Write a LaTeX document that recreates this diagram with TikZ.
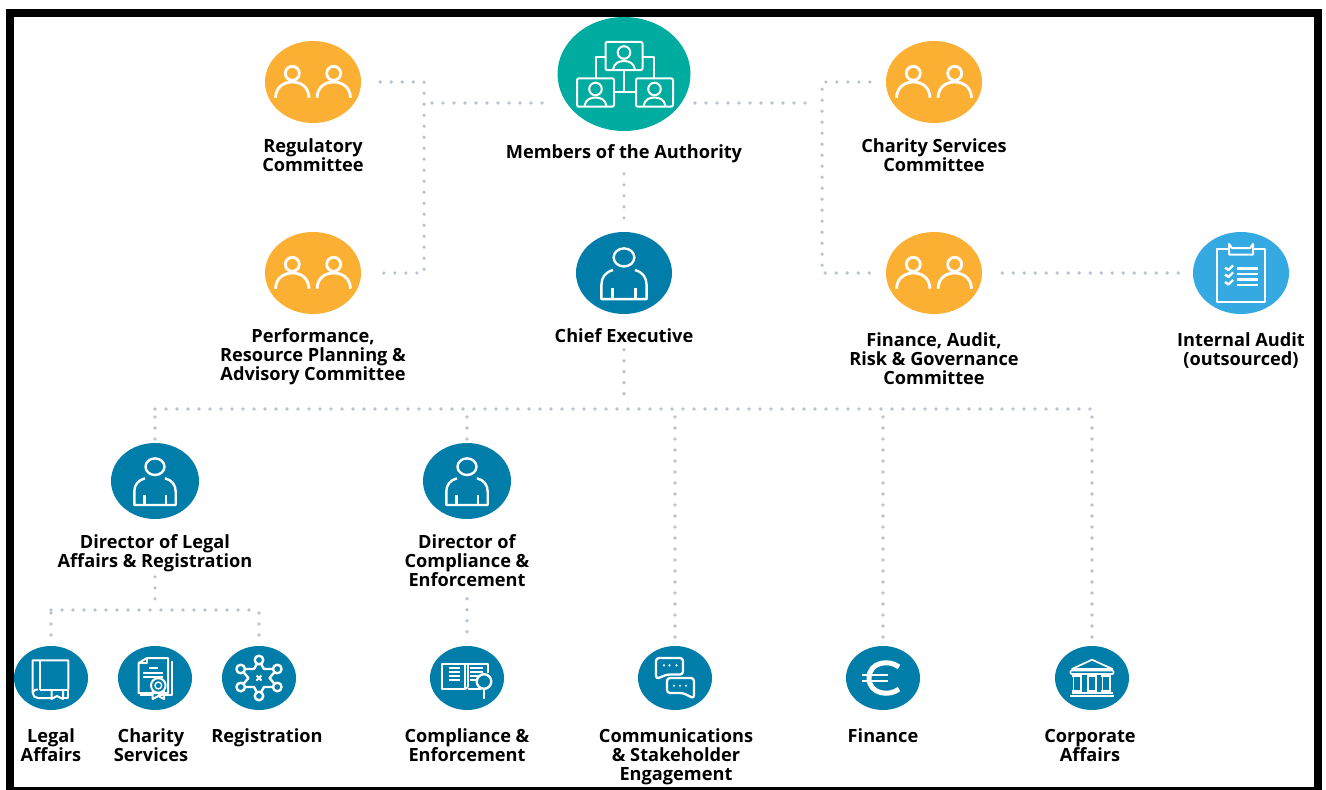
\documentclass[tikz,border=0pt]{standalone}
\usepackage{fontspec}
\setmainfont{Open Sans}
\usetikzlibrary{shapes.geometric,positioning}
\definecolor{tealc}{HTML}{00AB9F}
\definecolor{orangec}{HTML}{FBB034}
\definecolor{bluec}{HTML}{007DA8}
\definecolor{skyc}{HTML}{35A9E1}
\definecolor{dotc}{HTML}{B7C4CF}
\tikzset{
  disc/.style={ellipse,inner sep=0pt,draw=none},
  big disc/.style={disc,fill=orangec,minimum width=96pt,minimum height=82pt},
  chief disc/.style={big disc,fill=bluec},
  audit disc/.style={big disc,fill=skyc},
  dir disc/.style={disc,fill=bluec,minimum width=88pt,minimum height=76pt},
  unit disc/.style={disc,fill=bluec,minimum width=74pt,minimum height=64pt},
  lbl/.style={inner sep=0pt,align=center,font=\fontsize{18.2}{19}\selectfont\bfseries},
  dotline/.style={draw=dotc,line width=3.6pt,line cap=round,dash pattern=on 0pt off 11pt},
  ico/.style={draw=white,line width=2pt,line join=round,fill=none},
  pics/twopeople/.style={code={
    \foreach \s in {-1,1} {
      \draw[ico,line width=2.8pt] (\s*20.7,-8.7) circle (7);
      \draw[ico,line width=2.8pt] (\s*37.5,15.7) .. controls (\s*37,4) and (\s*28,0) .. (\s*20.7,0)
         .. controls (\s*13,0) and (\s*4.5,4) .. (\s*4,15.7);
    }
  }},
  pics/person/.style={code={
    \draw[ico,line width=2.4pt] (0,-14.3) ellipse (9.5 and 8.3);
    \draw[ico,line width=2.4pt] (-10,-2.7) .. controls (-17,-1) and (-20.7,4) .. (-20.7,10.7) -- (-20.7,24)
       -- (20.7,24) -- (20.7,10.7) .. controls (20.7,4) and (17,-1) .. (10,-2.7);
    \draw[ico,line width=2.4pt] (-10.7,14) -- (-10.7,24) (10.7,14) -- (10.7,24);
  }},
  pics/minipeep/.style={code={
    \draw[ico,rounded corners=2pt] (-18.5,-14.2) rectangle (18.5,14.2);
    \draw[ico] (0,-3.5) circle (6.3);
    \draw[ico] (-11,13.5) .. controls (-10,7) and (-5,5) .. (0,5) .. controls (5,5) and (10,7) .. (11,13.5);
  }},
  pics/board/.style={code={
    \pic at (0,-18) {minipeep};
    \pic at (-28.5,18.5) {minipeep};
    \pic at (30.5,18.5) {minipeep};
    \draw[ico] (-18.5,-17) -- (-28.3,-17) -- (-28.3,4.3);
    \draw[ico] (18.5,-17) -- (30,-17) -- (30,4.3);
    \draw[ico] (0,-4) -- (0,18) (-10,18) -- (12,18);
  }},
  pics/book/.style={code={
    \draw[ico] (17.3,11.5) -- (17.3,-17.7) -- (-18.3,-17.7) -- (-18.3,15)
       .. controls (-18.3,18) and (-15.5,20) .. (-13,20) -- (1,20);
    \draw[ico] (-11.5,-17.7) -- (-11.5,11.5);
    \draw[ico] (-11.5,11.5) -- (17.3,11.5);
    \draw[ico] (-13,11.5) .. controls (-16.5,11.5) and (-18.3,13) .. (-18.3,15);
    \draw[ico] (0.5,11.5) -- (0.5,21) -- (6,18) -- (12,21) -- (12,11.5);
    \draw[ico] (12,20) -- (17,20) -- (17,11.5);
  }},
  pics/certif/.style={code={
    \draw[ico] (-2,15) -- (-16.5,15) -- (-16.5,-15) -- (-8,-20) -- (13,-20) -- (13,15) -- (-2,15);
    \draw[ico] (-16.5,-15) -- (-8,-15) -- (-8,-20);
    \draw[ico] (16.5,-17) -- (16.5,17) -- (3,17) (-15,17) -- (-3,17);
    \draw[ico] (-6,-10) -- (3,-10) (-12,-5) -- (8,-5) (-12,-1.5) -- (8,-1.5);
    \draw[ico,fill=bluec] (3.3,7.5) circle (7.3);
    \draw[ico,line width=1.4pt] (3.3,7.5) circle (3.4);
    \draw[ico] (-2.3,13) -- (-2.3,21) -- (3.3,18) -- (9,21) -- (9,13);
  }},
  pics/hubstar/.style={code={
    \draw[ico,line width=2.4pt] (0,-17.7) -- (5,-9) -- (18.3,-9) -- (10.5,0) -- (18.3,9) -- (5,9) -- (0,18)
       -- (-5,9) -- (-18.3,9) -- (-10.5,0) -- (-18.3,-9) -- (-5,-9) -- cycle;
    \foreach \p in {(0,-18),(0,18),(-18.3,-9),(18.3,-9),(-18.3,9),(18.3,9)}
      \draw[ico,line width=2.4pt,fill=bluec] \p circle (4.3);
    \draw[ico,line width=1.8pt] (-2.5,-2.5) -- (2.5,2.5) (-2.5,2.5) -- (2.5,-2.5);
  }},
  pics/openbook/.style={code={
    \draw[ico] (-2,11) -- (-25,11) -- (-25,-14) -- (-2,-14) -- (-2,11);
    \draw[ico] (1,9) -- (1,-14) -- (21,-14) -- (21,-5);
    \draw[ico] (1,11) -- (14,11);
    \draw[ico] (-2,-14) -- (1,-14) (-2,11) -- (1,9);
    \foreach \yy in {-10,-6,-2.5,1.5} \draw[ico] (-18.5,\yy) -- (-7,\yy);
    \foreach \yy in {-10,-6} \draw[ico] (3,\yy) -- (16,\yy);
    \draw[ico] (3,-2.5) -- (11,-2.5) (3,1.5) -- (9,1.5);
    \draw[ico,line width=2.4pt,fill=bluec] (17,3.5) circle (7.3);
    \draw[ico,line width=2.8pt] (17,11) -- (17,20.5);
  }},
  pics/chats/.style={code={
    \draw[ico,line width=2.3pt,rounded corners=3pt] (-19,-20) -- (8,-20) -- (8,-3.5) -- (-8,-3.5) -- (-19,1) -- cycle;
    \draw[ico,line width=2.3pt,rounded corners=3pt] (-8,0) -- (19,0) -- (19,20.5) -- (8,15) -- (-8,15) -- cycle;
    \foreach \xx in {-11,-5.5,1.5} \fill[white] (\xx,-12.7) circle (1.2);
    \foreach \xx in {-1,5,11} \fill[white] (\xx,7.7) circle (1.2);
  }},
  pics/euro/.style={code={
    \draw[ico,line width=5pt,line cap=butt] (16,-11) .. controls (6,-19) and (-14,-16) .. (-14,0)
       .. controls (-14,16) and (6,19) .. (16,11);
    \draw[ico,line width=2pt] (-21,-2.7) -- (5,-2.7) (-21,3.3) -- (5,3.3);
  }},
  pics/bank/.style={code={
    \draw[ico,line width=1.7pt] (-20,-9) -- (0,-18.3) -- (20.5,-9) -- cycle;
    \draw[ico,line width=1.7pt,rounded corners=1pt] (-21.5,-7.5) rectangle (21.5,-4);
    \foreach \xx in {-14.7,0,14.3}
      \draw[ico,line width=1.7pt] (\xx-3.7,-4) -- (\xx-3.7,13.3) (\xx+3.7,-4) -- (\xx+3.7,13.3)
         (\xx-5,13.3) -- (\xx+5,13.3) (\xx-5,-2) -- (\xx+5,-2);
    \draw[ico,line width=1.7pt] (-22,18) -- (22,18) (-20.5,15) -- (20.5,15);
  }},
  pics/clipbrd/.style={code={
    \draw[ico] (-24,-24) -- (24,-24) -- (24,29) -- (-24,29) -- cycle;
    \draw[ico,fill=skyc] (-12,-29) -- (-12,-18.5) -- (12,-18.5) -- (12,-29) -- (9,-25) -- (-9,-25) -- cycle;
    \foreach \yy in {-4.5,2.5,10} 
      \draw[ico,line width=2.4pt] (-16,\yy-1) -- (-12.5,\yy+1.5) -- (-8,\yy-3);
    \foreach \yy in {-4.5,1,6.5,12}
      \draw[ico,line width=2.2pt] (-4.5,\yy) -- (16.5,\yy);
  }}
}
\begin{document}
\begin{tikzpicture}[x=1pt,y=-1pt]
  \useasboundingbox (0,0) rectangle (1326,790);
  \fill[white] (0,0) rectangle (1326,790);
  \draw[black,line width=8.4pt] (10,13) rectangle (1318,791);

  % committees and board
  \node[disc,fill=tealc,minimum width=133pt,minimum height=114pt] (members) at (624,74) {};
  \node[big disc] (regul) at (313,82) {};
  \node[big disc] (chsrv) at (934,82) {};
  \node[big disc] (perf) at (313,273) {};
  \node[big disc] (farg) at (934,273) {};
  \node[chief disc] (chief) at (624,273) {};
  \node[audit disc] (audit) at (1241,273) {};

  % directors and units
  \node[dir disc] (dirlegal) at (155,481) {};
  \node[dir disc] (dircomp) at (467,481) {};
  \node[unit disc] (legal) at (51,678) {};
  \node[unit disc] (charity) at (155,678) {};
  \node[unit disc] (regist) at (259,678) {};
  \node[unit disc] (compl) at (467,678) {};
  \node[unit disc] (comms) at (675,678) {};
  \node[unit disc] (fin) at (883,678) {};
  \node[unit disc] (corp) at (1092,678) {};

  % icons
  \pic at (members) {board};
  \pic at (regul) {twopeople};
  \pic at (chsrv) {twopeople};
  \pic at (perf) {twopeople};
  \pic at (farg) {twopeople};
  \pic[scale=1.09] at (chief) {person};
  \pic at (dirlegal) {person};
  \pic at (dircomp) {person};
  \pic at (audit) {clipbrd};
  \pic at (legal) {book};
  \pic at (charity) {certif};
  \pic at (regist) {hubstar};
  \pic at (compl) {openbook};
  \pic at (comms) {chats};
  \pic at (fin) {euro};
  \pic at (corp) {bank};

  % labels
  \node[lbl,below=13pt of members] (memberslbl) {Members of the Authority};
  \node[lbl,below=15pt of regul] (regullbl) {Regulatory\\Committee};
  \node[lbl,below=15pt of chsrv] (chsrvlbl) {Charity Services\\Committee};
  \node[lbl,below=14pt of perf] (perflbl) {Performance,\\Resource Planning \&\\Advisory Committee};
  \node[lbl,below=18pt of farg] (farglbl) {Finance, Audit,\\Risk \& Governance\\Committee};
  \node[lbl,below=14pt of chief] (chieflbl) {Chief Executive};
  \node[lbl,below=18pt of audit] (auditlbl) {Internal Audit\\(outsourced)};
  \node[lbl,below=15pt of dirlegal] (dirlegallbl) {Director of Legal\\Affairs \& Registration};
  \node[lbl,below=15pt of dircomp] (dircomplbl) {Director of\\Compliance \&\\Enforcement};
  \node[lbl,below=18pt of legal] (legallbl) {Legal\\Affairs};
  \node[lbl,below=18pt of charity,xshift=-4pt] (charitylbl) {Charity\\Services};
  \node[lbl,below=18pt of regist,xshift=8pt] (registlbl) {Registration};
  \node[lbl,below=18pt of compl] (compllbl) {Compliance \&\\Enforcement};
  \node[lbl,below=18pt of comms,xshift=1pt] (commslbl) {Communications\\\& Stakeholder\\Engagement};
  \node[lbl,below=18pt of fin] (finlbl) {Finance};
  \node[lbl,below=19pt of corp,xshift=-2pt] (corplbl) {Corporate\\Affairs};

  % junctions
  \coordinate (jperf) at (424,273);
  \coordinate (jregul) at (424,103);
  \coordinate (mleft) at (552,103);
  \coordinate (jfarg) at (822,273);
  \coordinate (jchsrv) at (822,103);
  \coordinate (mright) at (695,103);
  \coordinate (jtree) at (624,409);
  \coordinate (jwest) at (155,409);
  \coordinate (jeast) at (1092,409);
  \coordinate (junit) at (155,610);

  % connectors
  \draw[dotline,shorten <=19pt,shorten >=19pt] (regul.east) -| (jperf) -- (perf.east);
  \draw[dotline,shorten <=8pt] (jregul) -- (mleft);
  \draw[dotline,shorten <=16pt,shorten >=16pt] (chsrv.west) -| (jfarg) -- (farg.west);
  \draw[dotline,shorten >=8pt] (mright) -- (jchsrv);
  \draw[dotline,shorten <=11pt,shorten >=12pt] (memberslbl.south) -- (chief.north);
  \draw[dotline,shorten <=20pt,shorten >=12pt] (farg.east) -- (audit.west);
  \draw[dotline,shorten <=7pt,shorten >=8pt] (chieflbl.south) -- (jtree);
  \draw[dotline] (jwest) -- (jeast);
  \foreach \d in {dirlegal,dircomp}
    \draw[dotline,shorten <=8pt,shorten >=3pt] (jwest -| \d) -- (\d.north);
  \foreach \u in {comms,fin,corp}
    \draw[dotline,shorten <=8pt,shorten >=8pt] (jwest -| \u) -- (\u.north);
  \draw[dotline,shorten <=5pt,shorten >=8pt] (dirlegallbl.south) -- (junit);
  \draw[dotline] (junit -| legal) -- (junit -| regist);
  \foreach \u in {legal,regist}
    \draw[dotline,shorten <=3pt,shorten >=9pt] (junit -| \u) -- (\u.north);
  \draw[dotline,shorten <=12pt,shorten >=9pt] (dircomplbl.south) -- (compl.north);
\end{tikzpicture}
\end{document}
